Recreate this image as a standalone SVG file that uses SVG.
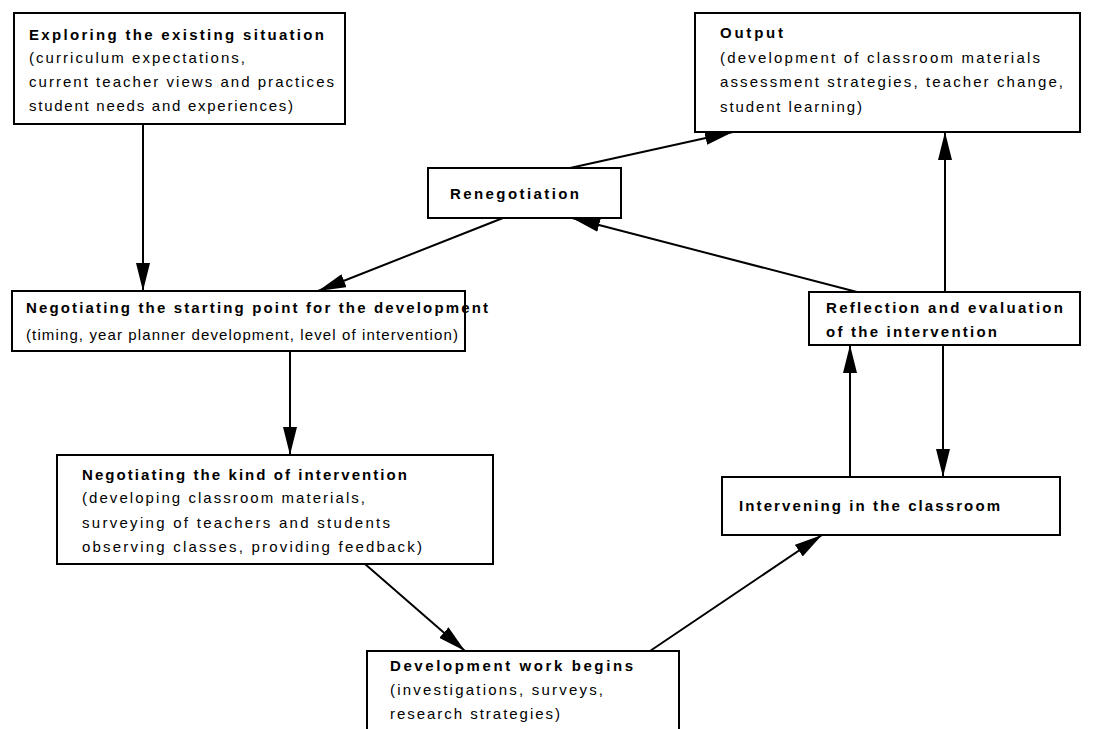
<svg xmlns="http://www.w3.org/2000/svg" width="1100" height="729" viewBox="0 0 1100 729">
<defs>
<marker id="arr" markerUnits="userSpaceOnUse" markerWidth="28" markerHeight="14" refX="28" refY="7" orient="auto">
<path d="M0,0 L28,7 L0,14 z" fill="#000"/>
</marker>
<style>
.box{fill:#fff;stroke:#000;stroke-width:2}
.t{font-family:"Liberation Sans",Arial,sans-serif;font-size:15px;fill:#000}
.b{font-weight:bold}
.c{stroke:#000;stroke-width:2;fill:none;marker-end:url(#arr)}
</style>
</defs>
<rect width="1100" height="729" fill="#fff"/>
<g id="connectors">
<line class="c" x1="143" y1="124" x2="143" y2="291"/>
<line class="c" x1="503" y1="218" x2="318" y2="291"/>
<line class="c" x1="857" y1="292" x2="572" y2="218"/>
<line class="c" x1="570" y1="168" x2="733" y2="132"/>
<line class="c" x1="945" y1="292" x2="945" y2="132"/>
<line class="c" x1="290" y1="351" x2="290" y2="455"/>
<line class="c" x1="365" y1="564" x2="465" y2="651"/>
<line class="c" x1="650" y1="651" x2="822" y2="535"/>
<line class="c" x1="850" y1="477" x2="850" y2="345"/>
<line class="c" x1="943" y1="345" x2="943" y2="477"/>
</g>
<g id="exploring">
<rect class="box" x="14" y="13" width="331" height="111"/>
<text class="t b" x="29" y="40" textLength="295" lengthAdjust="spacing">Exploring the existing situation</text>
<text class="t" x="29" y="63" textLength="216" lengthAdjust="spacing">(curriculum expectations,</text>
<text class="t" x="29" y="87" textLength="305" lengthAdjust="spacing">current teacher views and practices</text>
<text class="t" x="29" y="111" textLength="264" lengthAdjust="spacing">student needs and experiences)</text>
</g>
<g id="output">
<rect class="box" x="695" y="13" width="385" height="119"/>
<text class="t b" x="720" y="38" textLength="63" lengthAdjust="spacing">Output</text>
<text class="t" x="720" y="63" textLength="320" lengthAdjust="spacing">(development of classroom materials</text>
<text class="t" x="720" y="87" textLength="343" lengthAdjust="spacing">assessment strategies, teacher change,</text>
<text class="t" x="720" y="112" textLength="142" lengthAdjust="spacing">student learning)</text>
</g>
<g id="renegotiation">
<rect class="box" x="428" y="168" width="193" height="50"/>
<text class="t b" x="450" y="199" textLength="129" lengthAdjust="spacing">Renegotiation</text>
</g>
<g id="negotiating-start">
<rect class="box" x="12" y="291" width="453" height="60"/>
<text class="t b" x="26" y="313" textLength="462" lengthAdjust="spacing">Negotiating the starting point for the development</text>
<text class="t" x="26" y="340" textLength="432" lengthAdjust="spacing">(timing, year planner development, level of intervention)</text>
</g>
<g id="reflection">
<rect class="box" x="809" y="292" width="271" height="53"/>
<text class="t b" x="826" y="313" textLength="237" lengthAdjust="spacing">Reflection and evaluation</text>
<text class="t b" x="826" y="337" textLength="171" lengthAdjust="spacing">of the intervention</text>
</g>
<g id="negotiating-kind">
<rect class="box" x="57" y="455" width="436" height="109"/>
<text class="t b" x="82" y="480" textLength="325" lengthAdjust="spacing">Negotiating the kind of intervention</text>
<text class="t" x="82" y="503" textLength="283" lengthAdjust="spacing">(developing classroom materials,</text>
<text class="t" x="82" y="528" textLength="308" lengthAdjust="spacing">surveying of teachers and students</text>
<text class="t" x="82" y="552" textLength="340" lengthAdjust="spacing">observing classes, providing feedback)</text>
</g>
<g id="intervening">
<rect class="box" x="722" y="477" width="338" height="58"/>
<text class="t b" x="739" y="511" textLength="261" lengthAdjust="spacing">Intervening in the classroom</text>
</g>
<g id="development">
<rect class="box" x="367" y="651" width="312" height="100"/>
<text class="t b" x="390" y="671" textLength="243" lengthAdjust="spacing">Development work begins</text>
<text class="t" x="390" y="695" textLength="213" lengthAdjust="spacing">(investigations, surveys,</text>
<text class="t" x="390" y="719" textLength="170" lengthAdjust="spacing">research strategies)</text>
</g>
</svg>
